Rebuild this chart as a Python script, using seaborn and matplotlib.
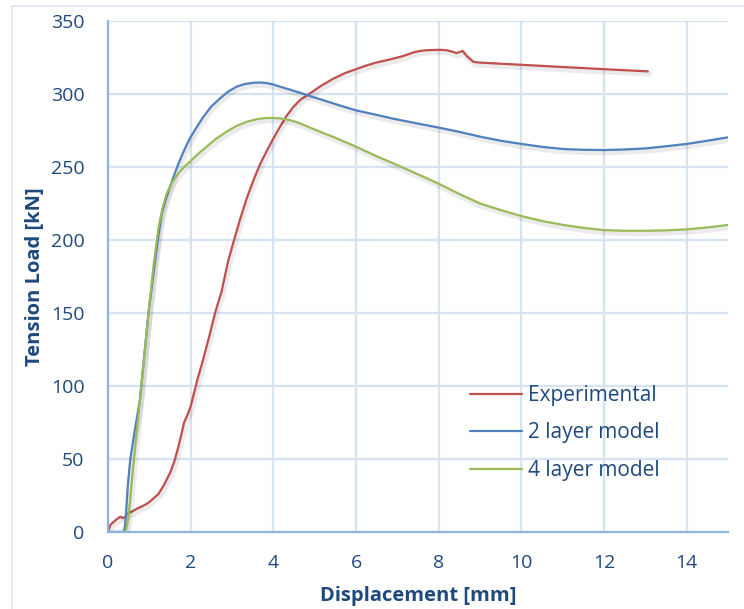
"""
plot.py
-------
Tension load vs displacement: experimental curve against the
2 layer and 4 layer models (Excel-style line chart).
"""

import matplotlib.pyplot as plt
import matplotlib.patheffects as pe
from matplotlib.patches import Rectangle
import seaborn as sns

# ---------------------------------------------------------------------------
# Data
# ---------------------------------------------------------------------------

EXP_X = [0.0, 0.06, 0.14, 0.22, 0.3, 0.36, 0.42, 0.46, 0.58, 0.7, 0.82, 0.95,
         1.02, 1.1, 1.22, 1.35, 1.51, 1.6, 1.68, 1.76, 1.84, 1.92, 2.0, 2.08,
         2.16, 2.3, 2.45, 2.59, 2.75, 2.91, 3.05, 3.19, 3.35, 3.52, 3.68,
         3.84, 4.0, 4.16, 4.32, 4.48, 4.65, 4.89, 5.15, 5.45, 5.75, 6.0,
         6.25, 6.5, 6.8, 7.14, 7.39, 7.55, 7.71, 8.03, 8.19, 8.33, 8.43,
         8.58, 8.68, 8.84, 9.0, 10.0, 11.0, 12.0, 13.06]
EXP_Y = [0, 5, 7, 9, 10.5, 9.5, 10.5, 12.5, 14, 16, 17.5, 19.5,
         21, 23, 26, 32, 41, 48, 56, 65, 75, 80, 86, 95,
         104, 118, 134, 150, 165, 186, 200, 213.7, 228, 241, 252,
         261, 269.5, 277.5, 285, 291, 296, 300.5, 305.5, 310.5, 314.5, 317,
         319.5, 321.6, 323.5, 326, 328.5, 329.5, 330, 330.3, 330, 329,
         328, 329.5, 326, 322, 321.5, 320, 318.5, 317, 315.5]

M2_X = [0.0, 0.38, 0.41, 0.44, 0.48, 0.54, 0.65, 0.77, 0.98, 1.14, 1.22,
        1.3, 1.4, 1.5, 1.62, 1.74, 1.86, 1.98, 2.15, 2.31, 2.5, 2.71,
        2.9, 3.11, 3.3, 3.52, 3.68, 3.84, 4.0, 4.16, 4.4, 4.65, 4.89,
        5.2, 5.6, 6.0, 6.45, 6.9, 7.45, 8.0, 8.51, 9.0, 9.5, 10.0, 10.5,
        11.02, 11.5, 12.0, 12.5, 13.03, 13.5, 14.0, 14.5, 15.0]
M2_Y = [0, 0, 4, 14, 32, 50, 70, 90, 150, 186, 203,
        218, 228, 236.5, 246, 254.8, 262.5, 269.6, 277.5, 284.5, 291.5, 297,
        301.5, 305, 306.8, 307.7, 307.9, 307.5, 306.5, 305, 303, 300.8,
        298.6, 295.8, 292.2, 288.8, 286, 283.1, 280, 277, 274, 270.8, 268,
        265.8, 263.8, 262.3, 261.8, 261.6, 262, 262.8, 264.2, 265.8, 268,
        270.3]

M4_X = [0.0, 0.4, 0.44, 0.48, 0.53, 0.58, 0.68, 0.79, 0.98, 1.1, 1.22,
        1.32, 1.42, 1.55, 1.7, 1.84, 1.98, 2.18, 2.39, 2.62, 2.87, 3.1,
        3.36, 3.6, 3.84, 4.0, 4.16, 4.32, 4.48, 4.65, 4.97, 5.5, 6.0, 6.45,
        6.9, 7.3, 7.71, 8.0, 8.5, 9.0, 9.5, 10.0, 10.5, 11.02, 11.5, 12.0,
        12.5, 13.03, 13.5, 14.0, 14.5, 15.0]
M4_Y = [0, 0, 2, 8, 20, 36, 65, 95, 150, 182, 208,
        222, 231.9, 239.5, 245.7, 250, 253.6, 259, 264, 269.5, 274.2, 278,
        281, 282.8, 283.6, 283.6, 283.3, 282.6, 281.5, 279.8, 276, 270,
        263.9, 258, 252.5, 247.5, 242.3, 238.5, 231.5, 225, 220.5, 216.4,
        213, 210.3, 208.3, 206.8, 206.3, 206.3, 206.6, 207.3, 208.6, 210.3]

SERIES = ["Experimental", "2 layer model", "4 layer model"]
X_TICKS = [0, 2, 4, 6, 8, 10, 12, 14]
Y_TICKS = [0, 50, 100, 150, 200, 250, 300, 350]

COLORS = {
    "Experimental":  "#C0504D",
    "2 layer model": "#4F81BD",
    "4 layer model": "#9BBB59",
}
TEXT_COLOR = "#1F497D"
GRID_COLOR = "#D6E3F3"
SPINE_COLOR = "#8EB4E3"

sns.set_theme(style="whitegrid")
plt.rcParams["font.family"] = ["Open Sans", "DejaVu Sans"]

# ---------------------------------------------------------------------------
# Figure
# ---------------------------------------------------------------------------

fig = plt.figure(figsize=(7.44, 6.09), dpi=100)
ax = fig.add_axes([108 / 744, 77 / 609, 620 / 744, 511 / 609])

# outer chart-area frame (top and left edges visible in the reference)
fig.patches.append(Rectangle((12 / 744, -0.05), 1.2, 0.05 + 603 / 609,
                             transform=fig.transFigure, fill=False,
                             edgecolor="#DCE6F2", linewidth=1.2))

shadow = [pe.SimpleLineShadow(offset=(1, -1.8), shadow_color="#000000",
                              alpha=0.08, linewidth=4), pe.Normal()]

for name, xs, ys in zip(SERIES, [EXP_X, M2_X, M4_X], [EXP_Y, M2_Y, M4_Y]):
    sns.lineplot(x=xs, y=ys, ax=ax, color=COLORS[name], label=name,
                 linewidth=1.6, sort=False, estimator=None)

for line in ax.get_lines():
    line.set_path_effects(shadow)

ax.set_xlim(0, 15)
ax.set_ylim(0, 350)
ax.set_xticks(X_TICKS)
ax.set_yticks(Y_TICKS)

ax.grid(True, color=GRID_COLOR, linewidth=1.6)
ax.set_facecolor("white")
for side in ["top", "right"]:
    ax.spines[side].set_visible(False)
for side in ["left", "bottom"]:
    ax.spines[side].set_visible(True)
    ax.spines[side].set_color(SPINE_COLOR)
    ax.spines[side].set_linewidth(1.6)

ax.tick_params(axis="both", length=0, labelsize=14, labelcolor=TEXT_COLOR)
ax.tick_params(axis="x", pad=16)
ax.tick_params(axis="y", pad=17)

ax.set_xlabel("Displacement [mm]", fontsize=14.5, fontweight="bold",
              color=TEXT_COLOR, labelpad=10)
ax.set_ylabel("Tension Load [kN]", fontsize=14.5, fontweight="bold",
              color=TEXT_COLOR, labelpad=4)

leg = ax.legend(loc="upper left", bbox_to_anchor=(0.584, 0.288),
                frameon=False, fontsize=15, handlelength=2.5,
                handletextpad=0.3, labelspacing=0.8, borderpad=0,
                borderaxespad=0)
for txt in leg.get_texts():
    txt.set_color(TEXT_COLOR)
for h in leg.get_lines():
    h.set_path_effects([pe.Normal()])
    h.set_linewidth(1.6)

fig.savefig("out.png", dpi=100)
